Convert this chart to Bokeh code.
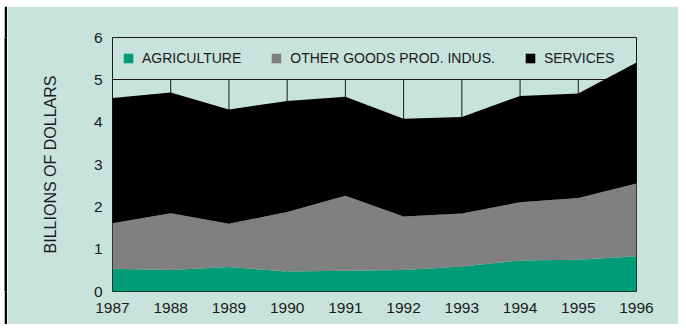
from bokeh.plotting import figure
from bokeh.models import Range1d, FixedTicker, Legend, LegendItem, ColumnDataSource, Spacer
from bokeh.layouts import column, row
from bokeh.embed import file_html
from bokeh.resources import INLINE

years = [1987, 1988, 1989, 1990, 1991, 1992, 1993, 1994, 1995, 1996]
agriculture = [0.54, 0.51, 0.58, 0.47, 0.49, 0.51, 0.59, 0.73, 0.75, 0.83]
other_goods = [1.07, 1.34, 1.02, 1.41, 1.77, 1.26, 1.25, 1.38, 1.46, 1.72]
services = [2.96, 2.85, 2.70, 2.62, 2.34, 2.31, 2.28, 2.51, 2.47, 2.86]
y_ticks = [0, 1, 2, 3, 4, 5, 6]
series_names = ["AGRICULTURE", "OTHER GOODS PROD. INDUS.", "SERVICES"]
series_colors = ["#009B78", "#808080", "#000000"]

BG = "#C8E3DC"
FONT = "Liberation Sans"

src = ColumnDataSource(dict(year=years, agri=agriculture, other=other_goods, serv=services,
                            y0=[0] * len(years), y5=[5] * len(years)))

p = figure(width=671, height=318, output_backend="svg", toolbar_location=None,
           x_range=Range1d(years[0], years[-1]), y_range=Range1d(y_ticks[0], y_ticks[-1]),
           background_fill_color=BG, border_fill_color=BG,
           min_border_left=105, min_border_right=42, min_border_top=31, min_border_bottom=33)

p.outline_line_color = "#1a1a1a"
p.outline_line_width = 1

# grid: vertical lines up to 5, horizontal at 5
p.xgrid.visible = False
p.ygrid.ticker = FixedTicker(ticks=[5])
p.ygrid.grid_line_color = "#1a1a1a"
p.ygrid.grid_line_width = 1
p.segment(x0="year", y0="y0", x1="year", y1="y5", source=src, line_color="#1a1a1a", line_width=1)

renderers = p.varea_stack(stackers=["agri", "other", "serv"], x="year", source=src,
                          color=series_colors)

legend = Legend(items=[LegendItem(label=n, renderers=[r]) for n, r in zip(series_names, renderers)],
                orientation="horizontal", location=(10, 225), padding=0, margin=0,
                spacing=29, glyph_width=12, glyph_height=12, label_standoff=8,
                background_fill_alpha=0, border_line_color=None,
                label_text_font=FONT, label_text_font_size="14px", label_text_color="#1a1a1a")
p.add_layout(legend, "center")

for ax in (p.xaxis[0], p.yaxis[0]):
    ax.axis_line_color = None
    ax.major_tick_line_color = None
    ax.minor_tick_line_color = None
    ax.major_label_text_font = FONT
    ax.major_label_text_font_size = "15.5px"
    ax.major_label_text_color = "#1a1a1a"

p.xaxis.ticker = FixedTicker(ticks=years)
p.xaxis.major_label_standoff = 5
p.yaxis.ticker = FixedTicker(ticks=y_ticks)
p.yaxis.major_label_standoff = 4
p.yaxis.axis_label = "BILLIONS OF DOLLARS"
p.yaxis.axis_label_text_font = FONT
p.yaxis.axis_label_text_font_style = "normal"
p.yaxis.axis_label_text_font_size = "16px"
p.yaxis.axis_label_text_color = "#1a1a1a"
p.yaxis.axis_label_standoff = 32


def black_bar(w, h):
    f = figure(width=w, height=h, output_backend="svg", toolbar_location=None, min_border=0,
               x_axis_location=None, y_axis_location=None,
               background_fill_color="black", border_fill_color="black", outline_line_color=None)
    f.grid.visible = False
    return f


layout = column(
    Spacer(width=678, height=3),
    row(Spacer(width=4, height=3), black_bar(674, 3)),
    row(Spacer(width=4, height=318), black_bar(3, 318), p),
)

open("out.html", "w").write(file_html(layout, INLINE))
